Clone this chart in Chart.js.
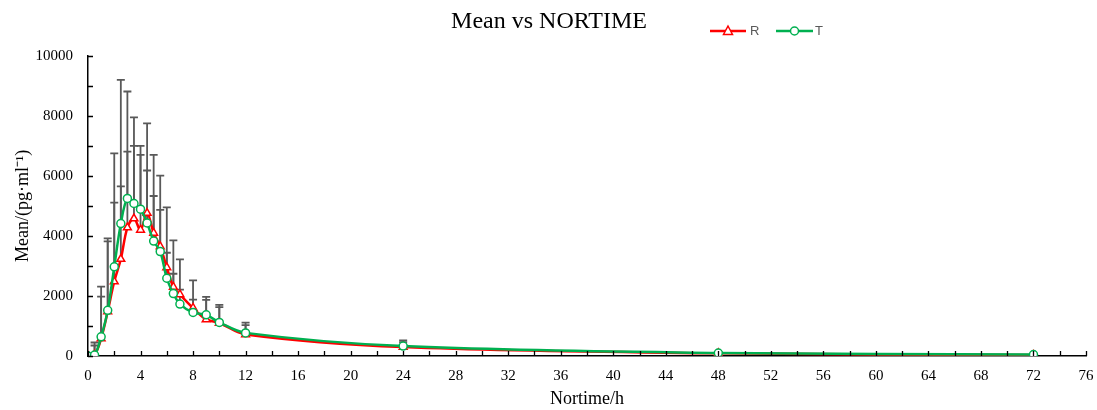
<!DOCTYPE html>
<html>
<head>
<meta charset="utf-8">
<title>Mean vs NORTIME</title>
<script src="https://cdn.jsdelivr.net/npm/chart.js@4/dist/chart.umd.min.js"></script>
<style>
  html, body { margin: 0; padding: 0; background: #fff; }
  #wrap { width: 1097px; height: 410px; }
</style>
</head>
<body>
<div id="wrap"><canvas id="pkChart" width="1097" height="410"></canvas></div>
<script>
// sampling times (h)
const hours = [0, 0.5, 1, 1.5, 2, 2.5, 3, 3.5, 4, 4.5, 5, 5.5, 6, 6.5, 7, 8, 9, 10, 12, 24, 48, 72];

// reference formulation R: mean and upper SD (pg/ml)
const meanR = [0, 40, 580, 1480, 2480, 3230, 4280, 4580, 4200, 4760, 4100, 3650, 2950, 2300, 2050, 1600, 1220, 1100, 720, 300, 90, 30];
const sdR   = [0, 310, 1400, 2340, 2630, 2420, 2530, 2420, 2500, 1420, 1230, 1220, 490, 440, 160, 280, 650, 530, 310, 160, 30, 30];

// test formulation T
const meanT = [0, 30, 640, 1520, 2970, 4410, 5250, 5080, 4890, 4430, 3830, 3480, 2590, 2080, 1730, 1450, 1370, 1120, 770, 330, 100, 50];
const sdT   = [0, 420, 1670, 2400, 3780, 4790, 3560, 2870, 2110, 3320, 2870, 2530, 2360, 1770, 1490, 1070, 600, 580, 340, 190, 40, 20];

// axis ranges: ticks every step, labels every labelStep
const xMax = 76, xStep = 2, xLabelStep = 4;
const yMax = 10000, yStep = 1000, yLabelStep = 2000;

const RED = '#FF0000';
const GREEN = '#00B050';
const SERIF = "'Liberation Serif', 'Times New Roman', serif";

const toPoints = (means) => hours.map((h, i) => ({ x: h, y: means[i] }));

// upward SD bars, drawn under the curves
const errorBars = {
    id: 'errorBars',
    beforeDatasetsDraw(chart) {
        const { ctx, scales: { x, y } } = chart;
        ctx.save();
        ctx.strokeStyle = '#595959';
        ctx.lineWidth = 1.8;
        [[meanR, sdR], [meanT, sdT]].forEach(([m, s]) => {
            hours.forEach((h, i) => {
                if (!s[i]) return;
                const px = x.getPixelForValue(h);
                const y0 = y.getPixelForValue(m[i]);
                const y1 = y.getPixelForValue(m[i] + s[i]);
                ctx.beginPath();
                ctx.moveTo(px, y0);
                ctx.lineTo(px, y1);
                ctx.moveTo(px - 4, y1);
                ctx.lineTo(px + 4, y1);
                ctx.stroke();
            });
        });
        ctx.restore();
    }
};

// inward tick marks on both axes
const innerTicks = {
    id: 'innerTicks',
    afterDraw(chart) {
        const { ctx, scales: { x, y } } = chart;
        ctx.save();
        ctx.strokeStyle = '#000';
        ctx.lineWidth = 1.3;
        ctx.beginPath();
        x.ticks.forEach(t => {
            const px = Math.round(x.getPixelForValue(t.value)) + 0.5;
            ctx.moveTo(px, y.bottom);
            ctx.lineTo(px, y.bottom - 5);
        });
        y.ticks.forEach(t => {
            const py = Math.round(y.getPixelForValue(t.value)) + 0.5;
            ctx.moveTo(x.left, py);
            ctx.lineTo(x.left + 5, py);
        });
        ctx.stroke();
        ctx.restore();
    }
};

// small legend at the top right
const topLegend = {
    id: 'topLegend',
    afterDraw(chart) {
        const ctx = chart.ctx;
        const items = [
            { label: 'R', color: RED, marker: 'triangle', x0: 710, x1: 746, tx: 750 },
            { label: 'T', color: GREEN, marker: 'circle', x0: 776, x1: 813, tx: 815 }
        ];
        const ly = 31;
        ctx.save();
        items.forEach(it => {
            ctx.strokeStyle = it.color;
            ctx.lineWidth = 2.5;
            ctx.beginPath();
            ctx.moveTo(it.x0, ly);
            ctx.lineTo(it.x1, ly);
            ctx.stroke();
            const cx = (it.x0 + it.x1) / 2;
            ctx.fillStyle = '#fff';
            ctx.lineWidth = 1.5;
            ctx.beginPath();
            if (it.marker === 'circle') {
                ctx.arc(cx, ly, 4, 0, Math.PI * 2);
            } else {
                ctx.moveTo(cx, ly - 5);
                ctx.lineTo(cx + 4.5, ly + 3.5);
                ctx.lineTo(cx - 4.5, ly + 3.5);
                ctx.closePath();
            }
            ctx.fill();
            ctx.stroke();
            ctx.fillStyle = '#595959';
            ctx.font = "13px 'Liberation Sans', Arial, sans-serif";
            ctx.textBaseline = 'middle';
            ctx.textAlign = 'left';
            ctx.fillText(it.label, it.tx, ly);
        });
        ctx.restore();
    }
};

new Chart(document.getElementById('pkChart'), {
    type: 'line',
    data: {
        datasets: [
            {
                label: 'R',
                data: toPoints(meanR),
                borderColor: RED,
                backgroundColor: '#fff',
                borderWidth: 2.5,
                pointStyle: 'triangle',
                pointRadius: 4.5,
                pointBorderWidth: 1.5,
                pointBorderColor: RED,
                pointBackgroundColor: '#fff',
                tension: 0.35,
                order: 2
            },
            {
                label: 'T',
                data: toPoints(meanT),
                borderColor: GREEN,
                backgroundColor: '#fff',
                borderWidth: 2.5,
                pointStyle: 'circle',
                pointRadius: 4,
                pointBorderWidth: 1.5,
                pointBorderColor: GREEN,
                pointBackgroundColor: '#fff',
                tension: 0.35,
                order: 1
            }
        ]
    },
    options: {
        responsive: false,
        animation: false,
        layout: { padding: { left: 12, right: 11, top: 0, bottom: 0 } },
        plugins: {
            legend: { display: false },
            tooltip: { enabled: false },
            title: {
                display: true,
                text: 'Mean vs NORTIME',
                color: '#000',
                font: { family: SERIF, size: 24, weight: 'normal' },
                padding: { top: 7, bottom: 20 }
            }
        },
        scales: {
            x: {
                type: 'linear',
                min: 0,
                max: xMax,
                grid: { display: false, drawTicks: false },
                border: { display: true, color: '#000', width: 1.5 },
                ticks: {
                    stepSize: xStep,
                    autoSkip: false,
                    maxRotation: 0,
                    padding: 11,
                    color: '#000',
                    font: { family: SERIF, size: 15 },
                    callback: v => (v % xLabelStep === 0 ? v : '')
                },
                title: {
                    display: true,
                    text: 'Nortime/h',
                    color: '#000',
                    font: { family: SERIF, size: 18 },
                    padding: { top: 0, bottom: 0 }
                },
                afterFit: s => {
                    s.height = 54;
                    s.paddingLeft = 0;
                    s.paddingRight = 0;
                }
            },
            y: {
                min: 0,
                max: yMax,
                grid: { display: false, drawTicks: false },
                border: { display: true, color: '#000', width: 1.5 },
                ticks: {
                    stepSize: yStep,
                    padding: 15,
                    color: '#000',
                    font: { family: SERIF, size: 15 },
                    callback: v => (v % yLabelStep === 0 ? v : '')
                },
                title: {
                    display: true,
                    text: 'Mean/(pg·ml⁻¹)',
                    color: '#000',
                    font: { family: SERIF, size: 18 },
                    padding: { top: 0, bottom: 0 }
                },
                afterFit: s => { s.width = 76; }
            }
        }
    },
    plugins: [errorBars, innerTicks, topLegend]
});
</script>
</body>
</html>
